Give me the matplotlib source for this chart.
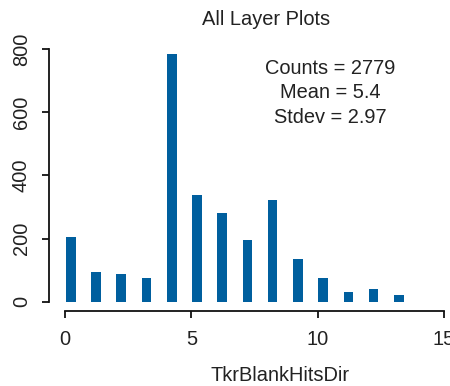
import numpy as np
import matplotlib.pyplot as plt

# hit counts per TkrBlankHitsDir bin (0..13)
bins = np.arange(14)
counts = [205, 93, 88, 74, 784, 337, 282, 196, 322, 134, 74, 30, 39, 21]
stats_lines = ["Counts = 2779", "Mean = 5.4", "Stdev = 2.97"]
x_ticks = [0, 5, 10, 15]
y_ticks = [0, 200, 400, 600, 800]

plt.rcParams['font.family'] = ['Liberation Sans', 'DejaVu Sans']
plt.rcParams['font.size'] = 14.4

fig = plt.figure(figsize=(4.5, 3.86), dpi=100)
ax = fig.add_axes([52 / 450, 81 / 386, 396.7 / 450, 265 / 386])

ax.bar(bins + 0.22, counts, width=0.38, color='#005f9e', linewidth=0)

ax.set_xlim(-0.527, 15.2)
ax.set_ylim(-10.5, 829.5)
ax.set_xticks(x_ticks)
ax.set_yticks(y_ticks)

# R-style detached axes
for side in ['top', 'right']:
    ax.spines[side].set_visible(False)
ax.spines['left'].set_position(('outward', 2.2))
ax.spines['bottom'].set_position(('outward', 4.3))
ax.spines['left'].set_bounds(0, 800)
ax.spines['bottom'].set_bounds(0, 15)
for side in ['left', 'bottom']:
    ax.spines[side].set_linewidth(1.3)
    ax.spines[side].set_color('#111111')
ax.tick_params(axis='both', length=5, width=1.3, color='#111111', labelcolor='#222222')
ax.tick_params(axis='y', pad=8, labelrotation=90)
ax.tick_params(axis='x', pad=9)
for lbl in ax.get_yticklabels():
    lbl.set_verticalalignment('center')
ax.patch.set_visible(False)

fig.text(266.5 / 450, (386 - 25) / 386, "All Layer Plots", ha='center', va='baseline', color='#222222')
for i, line in enumerate(stats_lines):
    fig.text(330 / 450, (386 - 74 - i * 24.5) / 386, line, ha='center', va='baseline', color='#222222')
fig.text(280 / 450, (386 - 381) / 386, "TkrBlankHitsDir", ha='center', va='baseline', color='#222222')

fig.savefig("out.png", dpi=100)
